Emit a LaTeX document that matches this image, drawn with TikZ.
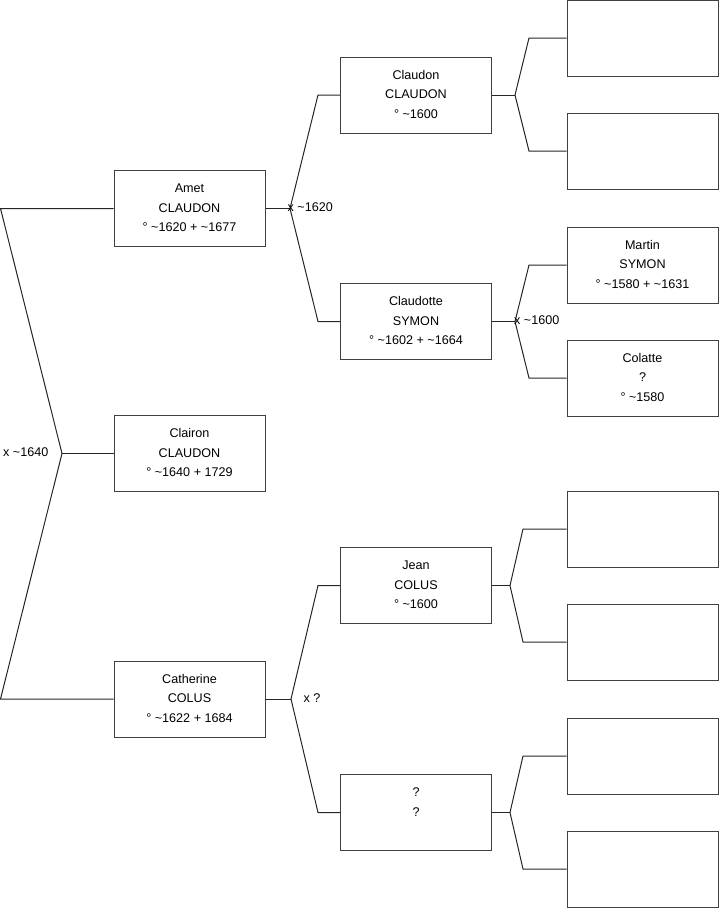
\documentclass[tikz,border=0pt]{standalone}
\usepackage{fontspec}
\setmainfont{Liberation Sans}
\newcommand{\pers}[1]{\raisebox{2pt}{\begin{tabular}{@{}c@{}}#1\end{tabular}}}
\begin{document}
\begin{tikzpicture}[x=1pt,y=-1pt,
  person/.style={draw=black!75, line width=1pt, fill=white, rectangle, minimum width=151pt, minimum height=76pt, inner sep=0pt, font=\fontsize{12.6}{19.5}\selectfont},
  conn/.style={draw=black!85, line width=1pt},
  lbl/.style={font=\fontsize{12.6}{14}\selectfont, inner sep=0pt}]
\useasboundingbox (0,0) rectangle (719,908);
% generation 1
\node[person] (amet) at (189.5,208.5) {\pers{Amet\\CLAUDON\\° \textasciitilde1620 + \textasciitilde1677}};
\node[person] (clairon) at (189.5,453.5) {\pers{Clairon\\CLAUDON\\° \textasciitilde1640 + 1729}};
\node[person] (cath) at (189.5,699) {\pers{Catherine\\COLUS\\° \textasciitilde1622 + 1684}};
% generation 2
\node[person] (claudon) at (416,95) {\pers{Claudon\\CLAUDON\\° \textasciitilde1600}};
\node[person] (claudotte) at (416,321.5) {\pers{Claudotte\\SYMON\\° \textasciitilde1602 + \textasciitilde1664}};
\node[person] (jean) at (416,585.5) {\pers{Jean\\COLUS\\° \textasciitilde1600}};
\node[person] (unk) at (416,812.5) {\pers{?\\?\\\mbox{}}};
% generation 3
\node[person] (r1) at (642.5,38) {};
\node[person] (r2) at (642.5,151) {};
\node[person] (martin) at (642.5,265) {\pers{Martin\\SYMON\\° \textasciitilde1580 + \textasciitilde1631}};
\node[person] (colatte) at (642.5,378) {\pers{Colatte\\?\\° \textasciitilde1580}};
\node[person] (r5) at (642.5,529) {};
\node[person] (r6) at (642.5,642) {};
\node[person] (r7) at (642.5,756) {};
\node[person] (r8) at (642.5,869) {};
% junctions
\coordinate (j0a) at (0.5,208.5);
\coordinate (j0) at (62,453.5);
\coordinate (j0c) at (0.5,699);
\coordinate (j1) at (290,208.5);
\coordinate (j1a) at (318,95);
\coordinate (j1b) at (318,321.5);
\coordinate (j2) at (515,95);
\coordinate (j2a) at (529,38);
\coordinate (j2b) at (529,151);
\coordinate (j3) at (515,321.5);
\coordinate (j3a) at (529,265);
\coordinate (j3b) at (529,378);
\coordinate (j4) at (291,699);
\coordinate (j4a) at (318,585.5);
\coordinate (j4b) at (318,812.5);
\coordinate (j5) at (510,585.5);
\coordinate (j5a) at (523,529);
\coordinate (j5b) at (523,642);
\coordinate (j6) at (510,812.5);
\coordinate (j6a) at (523,756);
\coordinate (j6b) at (523,869);
% connectors
\draw[conn] (amet.west) -- (j0a) -- (j0) -- (j0c) -- (cath.west);
\draw[conn] (j0) -- (clairon.west);
\draw[conn] (amet.east) -- (j1);
\draw[conn] (claudon.west) -- (j1a) -- (j1) -- (j1b) -- (claudotte.west);
\draw[conn] (claudon.east) -- (j2);
\draw[conn] (r1.west) -- (j2a) -- (j2) -- (j2b) -- (r2.west);
\draw[conn] (claudotte.east) -- (j3);
\draw[conn] (martin.west) -- (j3a) -- (j3) -- (j3b) -- (colatte.west);
\draw[conn] (cath.east) -- (j4);
\draw[conn] (jean.west) -- (j4a) -- (j4) -- (j4b) -- (unk.west);
\draw[conn] (jean.east) -- (j5);
\draw[conn] (r5.west) -- (j5a) -- (j5) -- (j5b) -- (r6.west);
\draw[conn] (unk.east) -- (j6);
\draw[conn] (r7.west) -- (j6a) -- (j6) -- (j6b) -- (r8.west);
% labels
\node[lbl, anchor=west] (l0) at (3,452) {x \textasciitilde1640};
\node[lbl, anchor=west] (l1) at (287.5,207.5) {x \textasciitilde1620};
\node[lbl, anchor=west] (l3) at (514,320) {x \textasciitilde1600};
\node[lbl, anchor=west] (l4) at (303.5,698) {x ?};
\end{tikzpicture}
\end{document}
